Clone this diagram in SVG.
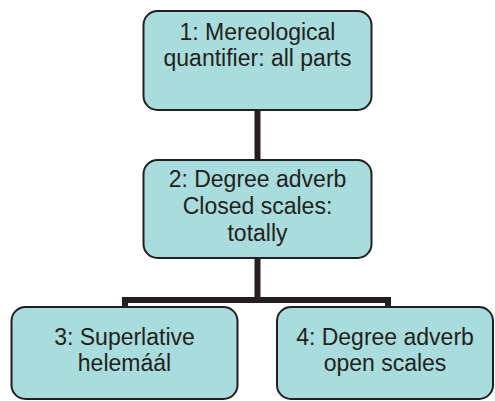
<svg xmlns="http://www.w3.org/2000/svg" width="495" height="401" viewBox="0 0 495 401">
<style>
.box{fill:#a9dcdc;stroke:#231f20;stroke-width:2}
.t{font-family:"Liberation Sans",Arial,sans-serif;font-size:23px;fill:#231f20;text-anchor:middle}
.c{fill:none;stroke:#231f20;stroke-width:6}
</style>
<rect width="495" height="401" fill="#ffffff"/>
<g id="connectors">
<path class="c" d="M257.5 110 V160"/>
<path class="c" d="M257.5 258 V300 M125 307 V300 H388 V307"/>
</g>
<g id="node1">
<rect class="box" x="143.5" y="11" width="228" height="99" rx="14"/>
<text class="t" x="257.5" y="40">1: Mereological</text>
<text class="t" x="257.5" y="66">quantifier: all parts</text>
</g>
<g id="node2">
<rect class="box" x="143.5" y="160" width="228" height="98" rx="14"/>
<text class="t" x="257.5" y="187">2: Degree adverb</text>
<text class="t" x="257.5" y="214">Closed scales:</text>
<text class="t" x="257.5" y="241">totally</text>
</g>
<g id="node3">
<rect class="box" x="11.5" y="307" width="226" height="92" rx="14"/>
<text class="t" x="124.5" y="345">3: Superlative</text>
<text class="t" x="124.5" y="371">helemáál</text>
</g>
<g id="node4">
<rect class="box" x="277" y="307" width="216" height="92" rx="14"/>
<text class="t" x="385" y="345">4: Degree adverb</text>
<text class="t" x="385" y="371">open scales</text>
</g>
</svg>
